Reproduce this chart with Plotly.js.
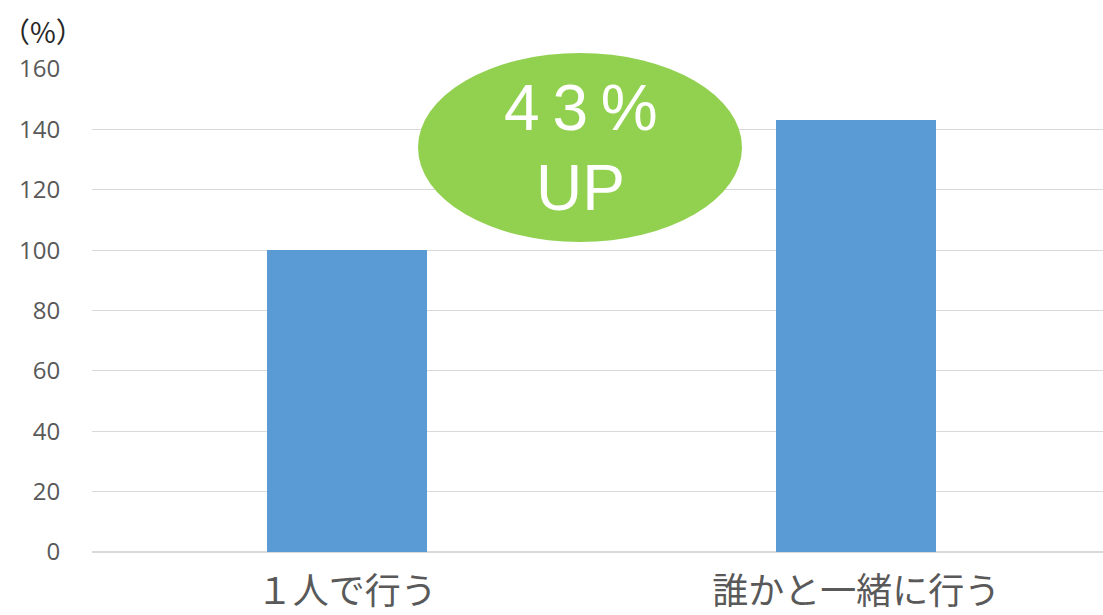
<!DOCTYPE html>
<html>
<head>
<meta charset="utf-8">
<script src="https://cdn.plot.ly/plotly-3.0.1.min.js"></script>
<style>html,body{margin:0;padding:0;background:#fff;}#chart{width:1103px;height:615px;}</style>
</head>
<body>
<div id="chart"></div>
<script>
const categories = ["１人で行う", "誰かと一緒に行う"];
const values = [100, 143];
const yTickValues = [0, 20, 40, 60, 80, 100, 120, 140, 160];
const unitLabel = "（%）";
const calloutLines = ["4\u20093\u2009%", "UP"];

const trace = {
  type: 'bar',
  x: [0, 1],
  y: values,
  width: 0.314,
  marker: {color: '#5B9BD5', line: {width: 0}},
  hoverinfo: 'skip'
};

const layout = {
  width: 1103, height: 615,
  margin: {l: 92, r: 0, t: 69, b: 63},
  paper_bgcolor: '#ffffff', plot_bgcolor: '#ffffff',
  showlegend: false,
  bargap: 0,
  xaxis: {
    range: [-0.5, 1.484],
    tickvals: [0, 1],
    ticktext: categories,
    tickfont: {family: 'Noto Sans CJK JP', size: 36, color: '#595959'},
    showgrid: false, zeroline: false, showline: false,
    ticks: 'outside', ticklen: 8, tickcolor: 'rgba(0,0,0,0)',
    fixedrange: true
  },
  yaxis: {
    range: [0, 160],
    tickvals: yTickValues,
    tickfont: {family: 'Open Sans, Noto Sans', size: 24, color: '#595959'},
    showgrid: true, gridcolor: '#d9d9d9', gridwidth: 1,
    zeroline: true, zerolinecolor: '#d9d9d9', zerolinewidth: 2,
    showline: false,
    ticks: 'outside', ticklen: 26, tickcolor: 'rgba(0,0,0,0)',
    fixedrange: true
  },
  shapes: [{
    type: 'circle', xref: 'paper', yref: 'paper',
    x0: (418 - 92) / 1011, x1: (742 - 92) / 1011,
    y0: (552 - 242) / 483, y1: (552 - 53) / 483,
    fillcolor: '#92D050', line: {width: 0}, layer: 'above'
  }],
  annotations: [
    {xref: 'paper', yref: 'paper', x: (581 - 92) / 1011, y: (552 - 108) / 483,
     text: calloutLines[0], showarrow: false, xanchor: 'center', yanchor: 'middle',
     font: {family: 'Liberation Sans, Arial', size: 64, color: '#ffffff'}},
    {xref: 'paper', yref: 'paper', x: (580 - 92) / 1011, y: (552 - 188) / 483,
     text: calloutLines[1], showarrow: false, xanchor: 'center', yanchor: 'middle',
     font: {family: 'Liberation Sans, Arial', size: 64, color: '#ffffff'}},
    {xref: 'paper', yref: 'paper', x: -92 / 1011, y: (552 - 31) / 483,
     text: unitLabel, showarrow: false, xanchor: 'left', yanchor: 'middle',
     font: {family: 'Noto Sans CJK JP', size: 28, color: '#262626'}}
  ]
};

Plotly.newPlot('chart', [trace], layout, {displayModeBar: false, staticPlot: true});
</script>
</body>
</html>
